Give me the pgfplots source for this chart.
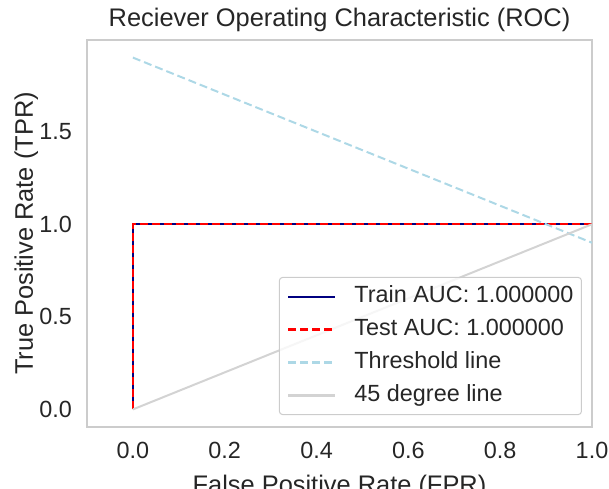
\documentclass[border=0pt]{standalone}
\usepackage{fontspec}
\setmainfont{Liberation Sans}
\usepackage{pgfplots}
\pgfplotsset{compat=1.18}

\definecolor{txt}{HTML}{262626}
\definecolor{frame}{HTML}{CCCCCC}
\definecolor{navyc}{HTML}{000080}
\definecolor{lblue}{HTML}{ADD8E6}
\definecolor{lgray}{HTML}{D3D3D3}

\newcommand{\ticksize}{\fontsize{23.4bp}{28bp}\selectfont}
\newcommand{\labsize}{\fontsize{25.4bp}{30bp}\selectfont}

\begin{document}
\begin{tikzpicture}[font=\ticksize, text=txt]
    \begin{axis}[
        scale only axis,
        width=505bp,
        height=387bp,
        xmin=-0.1, xmax=1.0,
        ymin=-0.095, ymax=1.995,
        xtick={0,0.2,0.4,0.6,0.8,1.0},
        ytick={0,0.5,1.0,1.5},
        major tick length=0pt,
        axis line style={frame, line width=1.5bp},
        /pgf/number format/.cd, fixed, fixed zerofill, precision=1,
            assume math mode=true,
        /pgfplots/.cd,
        xticklabel style={anchor=base, inner sep=0pt, yshift=-31bp},
        yticklabel style={anchor=east, inner sep=0pt, xshift=-15bp},
        title={Reciever Operating Characteristic (ROC)},
        title style={font=\labsize, at={(axis description cs:0.5,1)}, anchor=base, yshift=8bp, inner sep=0pt},
        xlabel={False Positive Rate (FPR)},
        xlabel style={font=\labsize, at={(axis description cs:0.5,0)}, anchor=base, yshift=-66bp, inner sep=0pt},
        ylabel={True Positive Rate (TPR)},
        ylabel style={font=\labsize, at={(axis description cs:-0.107,0.5)}, anchor=base, inner sep=0pt},
        legend cell align=left,
        legend image code/.code={\draw[#1] (0bp,0bp) -- (47bp,0bp);},
        legend style={
            at={(axis description cs:0.980,0.031)},
            anchor=south east,
            draw=frame, line width=1bp,
            rounded corners=3bp,
            fill=white, fill opacity=0.8, text opacity=1,
            inner xsep=8bp, inner ysep=9bp,
            row sep=13bp, column sep=18bp,
            nodes={inner sep=0pt, text height=16bp, text depth=4bp},
        },
    ]

    % train ROC
    \addplot[navyc, line width=2bp] coordinates {(0,0) (0,1) (1,1)};
    \addlegendentry{Train AUC: 1.000000}

    % test ROC
    \addplot[red, line width=2bp, dash pattern=on 8bp off 4bp] coordinates {(0,0) (0,1) (1,1)};
    \addlegendentry{Test AUC: 1.000000}

    % thresholds
    \addplot[lblue, line width=2bp, dash pattern=on 8bp off 4bp] coordinates {(0,1.9) (1,0.9)};
    \addlegendentry{Threshold line}

    % diagonal
    \addplot[lgray, line width=2bp] coordinates {(0,0) (1,1)};
    \addlegendentry{45 degree line}

    \end{axis}
    \pgfresetboundingbox
    \path[use as bounding box] (-87bp,-62bp) rectangle (522bp,427bp);
\end{tikzpicture}
\end{document}
